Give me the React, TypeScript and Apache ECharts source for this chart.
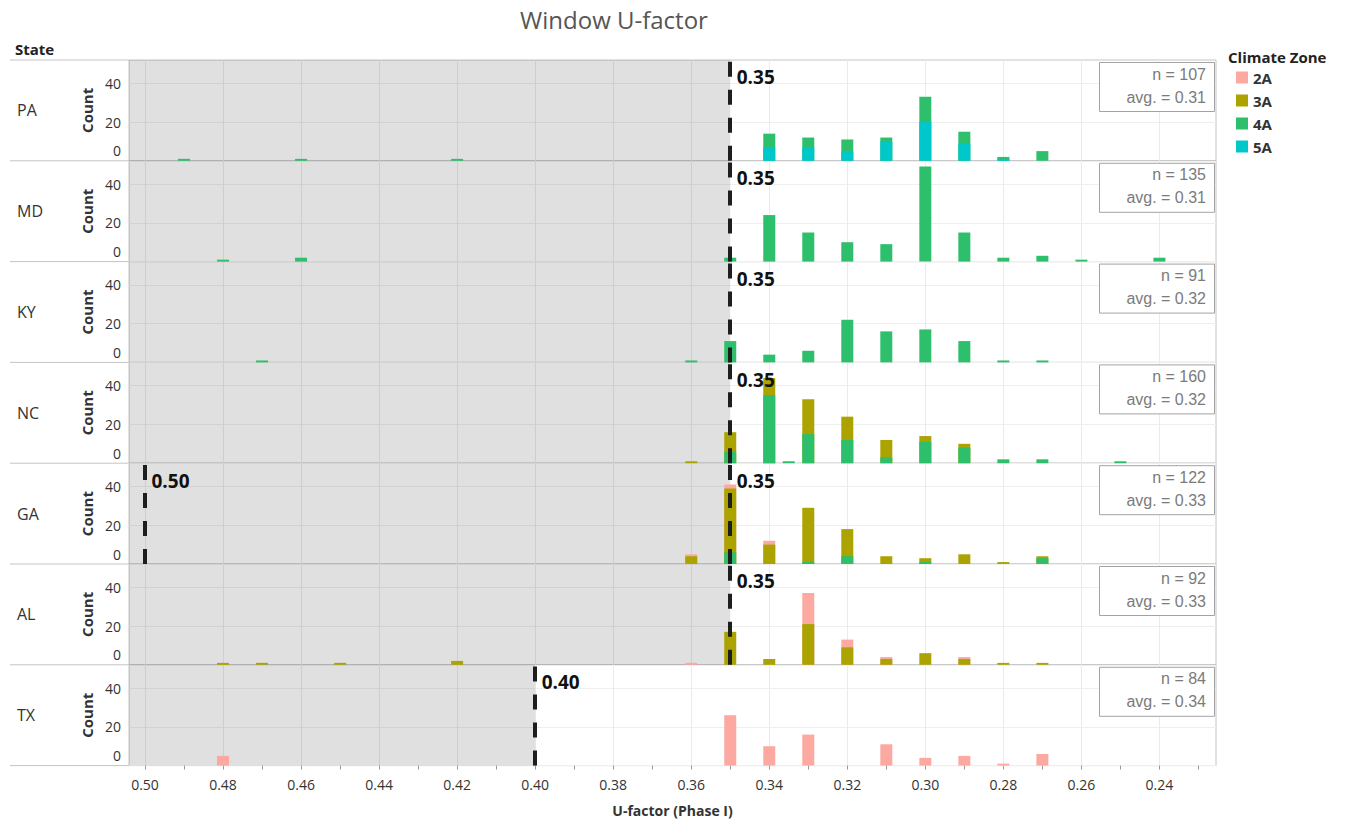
import React, { useEffect, useRef } from 'react';
import * as echarts from 'echarts';

// ---- data ----
const STATES = ['PA', 'MD', 'KY', 'NC', 'GA', 'AL', 'TX'];
const ZONES = ['2A', '3A', '4A', '5A'];
const ZONE_COLORS = ['#fca9a2', '#aba300', '#2dbf6b', '#00c8ca'];
const U_FACTORS = [0.49, 0.48, 0.47, 0.46, 0.45, 0.42, 0.36, 0.35, 0.34, 0.335, 0.33, 0.32, 0.31, 0.30, 0.29, 0.28, 0.27, 0.26, 0.25, 0.24];

const PA_5A = [0, 0, 0, 0, 0, 0, 0, 0, 7, 0, 7, 5, 10, 20, 9, 1, 0, 0, 0, 0];
const PA_4A = [1, 0, 0, 1, 0, 1, 0, 0, 7, 0, 5, 6, 2, 13, 6, 1, 5, 0, 0, 0];
const MD_4A = [0, 1, 0, 2, 0, 0, 0, 2, 24, 0, 15, 10, 9, 49, 15, 2, 3, 1, 0, 2];
const KY_4A = [0, 0, 1, 0, 0, 0, 1, 11, 4, 0, 6, 22, 16, 17, 11, 1, 1, 0, 0, 0];
const NC_4A = [0, 0, 0, 0, 0, 0, 0, 6, 35, 1, 15, 12, 3, 11, 8, 2, 2, 0, 1, 0];
const NC_3A = [0, 0, 0, 0, 0, 0, 1, 10, 9, 0, 18, 12, 9, 3, 2, 0, 0, 0, 0, 0];
const GA_4A = [0, 0, 0, 0, 0, 0, 0, 6, 0, 0, 1, 4, 0, 1, 0, 0, 3, 0, 0, 0];
const GA_3A = [0, 0, 0, 0, 0, 0, 4, 33, 10, 0, 28, 14, 4, 2, 5, 1, 1, 0, 0, 0];
const GA_2A = [0, 0, 0, 0, 0, 0, 1, 2, 2, 0, 0, 0, 0, 0, 0, 0, 0, 0, 0, 0];
const AL_3A = [0, 1, 1, 0, 1, 2, 0, 17, 3, 0, 21, 9, 3, 6, 3, 1, 1, 0, 0, 0];
const AL_2A = [0, 0, 0, 0, 0, 0, 1, 0, 0, 0, 16, 4, 1, 0, 1, 0, 0, 0, 0, 0];
const TX_2A = [0, 5, 0, 0, 0, 0, 0, 26, 10, 0, 16, 0, 11, 4, 5, 1, 6, 0, 0, 0];

const THRESHOLDS = [[0.35], [0.35], [0.35], [0.35], [0.50, 0.35], [0.35], [0.40]];
const N_COUNTS = [107, 135, 91, 160, 122, 92, 84];
const AVERAGES = [0.31, 0.31, 0.32, 0.32, 0.33, 0.33, 0.34];

const X_TICKS = [0.24, 0.26, 0.28, 0.30, 0.32, 0.34, 0.36, 0.38, 0.40, 0.42, 0.44, 0.46, 0.48, 0.50];
const X_MINOR_TICKS = [0.23, 0.24, 0.25, 0.26, 0.27, 0.28, 0.29, 0.30, 0.31, 0.32, 0.33, 0.34, 0.35, 0.36, 0.37, 0.38, 0.39, 0.40, 0.41, 0.42, 0.43, 0.44, 0.45, 0.46, 0.47, 0.48, 0.49, 0.50];
const Y_TICKS = [0, 20, 40];

// ---- layout ----
const X_MIN = 0.2255;
const X_MAX = 0.5041;
const Y_MAX = 52;
const GRID_LEFT = 129;
const GRID_WIDTH = 1087;
const PANEL_TOP = 60;
const PANEL_H = 100.8;
const FONT = '"Open Sans", "Noto Sans", sans-serif';

const COUNTS: Record<string, Record<string, number[]>> = {
  PA: { '5A': PA_5A, '4A': PA_4A },
  MD: { '4A': MD_4A },
  KY: { '4A': KY_4A },
  NC: { '4A': NC_4A, '3A': NC_3A },
  GA: { '4A': GA_4A, '3A': GA_3A, '2A': GA_2A },
  AL: { '3A': AL_3A, '2A': AL_2A },
  TX: { '2A': TX_2A },
};
// stacking order, bottom to top
const STACK_ORDER = ['5A', '4A', '3A', '2A'];

function buildOption() {
  const grids: any[] = [];
  const xAxes: any[] = [];
  const yAxes: any[] = [];
  const series: any[] = [];
  const graphics: any[] = [];
  const last = STATES.length - 1;

  STATES.forEach((st, i) => {
    const top = PANEL_TOP + i * PANEL_H;
    grids.push({
      left: GRID_LEFT, width: GRID_WIDTH, top, height: PANEL_H,
      show: true, borderColor: '#c4c4c4', borderWidth: 1, backgroundColor: 'transparent',
    });
    xAxes.push({
      type: 'value', gridIndex: i, min: X_MIN, max: X_MAX, inverse: true,
      axisLine: { show: false },
      axisTick: { show: false, customValues: X_TICKS },
      axisLabel: {
        show: i === last, customValues: X_TICKS, margin: 12,
        formatter: (v: number) => v.toFixed(2), fontSize: 14, color: '#333', fontFamily: FONT,
      },
      splitLine: { show: true, lineStyle: { color: '#ebebeb', width: 1 } },
      name: i === last ? 'U-factor (Phase I)' : '',
      nameLocation: 'middle', nameGap: 38,
      nameTextStyle: { fontSize: 14, fontWeight: 'bold', color: '#333', fontFamily: FONT },
    });
    yAxes.push({
      type: 'value', gridIndex: i, min: 0, max: Y_MAX,
      axisLine: { show: false },
      axisTick: { show: false, customValues: Y_TICKS },
      axisLabel: {
        customValues: Y_TICKS, margin: 8, fontSize: 14, color: '#333', fontFamily: FONT,
        formatter: (v: number) => (v === 0 ? '{z|0}' : String(v)),
        rich: { z: { padding: [0, 0, 20, 0], fontSize: 14, color: '#333', fontFamily: FONT } },
      },
      splitLine: { show: true, lineStyle: { color: '#efefef', width: 1 } },
      name: 'Count', nameLocation: 'middle', nameGap: 34, nameRotate: 90,
      nameTextStyle: { fontSize: 15, fontWeight: 'bold', color: '#333', fontFamily: FONT },
    });

    const thr = THRESHOLDS[i];
    const shadeEnd = Math.min(...thr);
    series.push({
      type: 'line', name: 'shade' + i, xAxisIndex: i, yAxisIndex: i, data: [], z: 1, silent: true,
      markArea: {
        silent: true,
        itemStyle: { color: 'rgba(0,0,0,0.12)' },
        data: [[{ xAxis: X_MAX }, { xAxis: shadeEnd }]],
      },
    });

    // stacked bars, built as cumulative totals drawn back to front
    const present = STACK_ORDER.filter((z) => COUNTS[st][z]);
    const cumulative: number[][] = [];
    present.forEach((z, k) => {
      const arr = COUNTS[st][z];
      cumulative.push(arr.map((v, j) => v + (k > 0 ? cumulative[k - 1][j] : 0)));
    });
    for (let k = present.length - 1; k >= 0; k--) {
      const z = present[k];
      const cum = cumulative[k];
      series.push({
        type: 'bar', name: z, xAxisIndex: i, yAxisIndex: i, z: 2,
        barWidth: 12, barGap: '-100%',
        itemStyle: { color: ZONE_COLORS[ZONES.indexOf(z)] },
        data: U_FACTORS.map((u, j) => [u, COUNTS[st][z][j] > 0 ? cum[j] : 0]),
      });
    }

    series.push({
      type: 'line', name: 'thr' + i, xAxisIndex: i, yAxisIndex: i, data: [], z: 5, silent: true,
      markLine: {
        silent: true, symbol: ['none', 'none'],
        lineStyle: { color: '#1e1e1e', width: 4, type: [15, 13] },
        label: { show: false },
        data: thr.map((t) => ({ xAxis: t })),
      },
      markPoint: {
        silent: true, symbol: 'circle', symbolSize: 1,
        itemStyle: { color: 'transparent' },
        label: {
          show: true, position: 'right', distance: 6,
          fontSize: 19, fontWeight: 'bold', color: '#111', fontFamily: FONT,
        },
        data: thr.map((t) => ({ coord: [t, 43], value: t, label: { formatter: t.toFixed(2) } })),
      },
    });

    // state label
    graphics.push({
      type: 'text', x: 17, y: top + PANEL_H / 2,
      style: { text: st, fontSize: 16, fill: '#333', fontFamily: FONT, align: 'left', verticalAlign: 'middle', textAlign: 'left', textVerticalAlign: 'middle' },
    });
    graphics.push({
      type: 'line', shape: { x1: 10, y1: top, x2: GRID_LEFT, y2: top },
      style: { stroke: '#c4c4c4', lineWidth: 1 },
    });
    // n / avg box
    graphics.push({
      type: 'rect', shape: { x: 1099.5, y: top + 2.5, width: 115, height: 49 },
      style: { fill: '#fff', stroke: '#a3a3a3', lineWidth: 1 }, z: 50,
    });
    graphics.push({
      type: 'text', x: 1206, y: top + 14, z: 51,
      style: { text: 'n = ' + N_COUNTS[i], fontSize: 16, fill: '#7b7b7b', fontFamily: '"Liberation Sans", Arial, sans-serif', align: 'right', verticalAlign: 'middle', textAlign: 'right', textVerticalAlign: 'middle' },
    });
    graphics.push({
      type: 'text', x: 1206, y: top + 37, z: 51,
      style: { text: 'avg. = ' + AVERAGES[i].toFixed(2), fontSize: 16, fill: '#7b7b7b', fontFamily: '"Liberation Sans", Arial, sans-serif', align: 'right', verticalAlign: 'middle', textAlign: 'right', textVerticalAlign: 'middle' },
    });
  });

  graphics.push({
    type: 'line', shape: { x1: 10, y1: PANEL_TOP + STATES.length * PANEL_H, x2: GRID_LEFT, y2: PANEL_TOP + STATES.length * PANEL_H },
    style: { stroke: '#c4c4c4', lineWidth: 1 },
  });

  // minor ticks on bottom panel
  xAxes.push({
    type: 'value', gridIndex: last, min: X_MIN, max: X_MAX, inverse: true, position: 'bottom',
    axisLine: { show: false },
    axisTick: { show: true, customValues: X_MINOR_TICKS, length: 4, lineStyle: { color: '#999' } },
    axisLabel: { show: false },
    splitLine: { show: false },
  });

  graphics.push({
    type: 'text', x: 614, y: 19,
    style: { text: 'Window U-factor', fontSize: 24, fill: '#555', fontFamily: FONT, align: 'center', verticalAlign: 'middle', textAlign: 'center', textVerticalAlign: 'middle' },
  });
  graphics.push({
    type: 'text', x: 15, y: 49,
    style: { text: 'State', fontSize: 15, fontWeight: 'bold', fill: '#222', fontFamily: FONT, align: 'left', verticalAlign: 'middle', textAlign: 'left', textVerticalAlign: 'middle' },
  });
  graphics.push({
    type: 'text', x: 1228, y: 57,
    style: { text: 'Climate Zone', fontSize: 15, fontWeight: 'bold', fill: '#222', fontFamily: FONT, align: 'left', verticalAlign: 'middle', textAlign: 'left', textVerticalAlign: 'middle' },
  });

  return {
    animation: false,
    backgroundColor: '#ffffff',
    textStyle: { fontFamily: FONT },
    grid: grids,
    xAxis: xAxes,
    yAxis: yAxes,
    legend: {
      orient: 'vertical', left: 1231, top: 65, itemWidth: 12, itemHeight: 12, itemGap: 8,
      icon: 'rect', selectedMode: false,
      textStyle: { fontSize: 15, fontWeight: 'bold', color: '#333', fontFamily: FONT },
      data: ZONES.map((z, k) => ({ name: z, itemStyle: { color: ZONE_COLORS[k] } })),
    },
    series,
    graphic: graphics,
  };
}

export default function App() {
  const ref = useRef<HTMLDivElement>(null);
  useEffect(() => {
    if (!ref.current) return;
    const chart = echarts.init(ref.current, undefined, { renderer: 'svg' });
    chart.setOption(buildOption() as any);
    return () => chart.dispose();
  }, []);
  return (
    <div
      ref={ref}
      style={{ position: 'fixed', left: 0, top: 0, width: 1348, height: 824, background: '#fff' }}
    />
  );
}
